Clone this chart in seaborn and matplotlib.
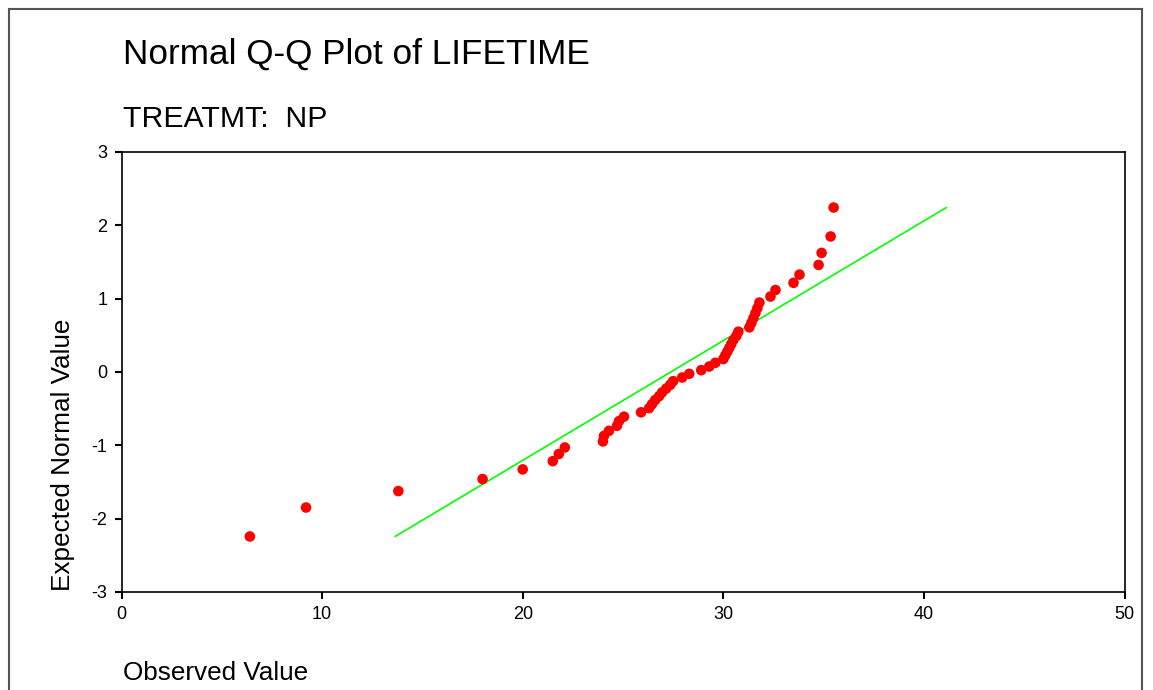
import matplotlib
matplotlib.use("Agg")
import matplotlib.pyplot as plt
import seaborn as sns
import pandas as pd
from matplotlib.patches import Rectangle

# ---- data ----
observed = [6.4, 9.2, 13.8, 18.0, 20.0, 21.5, 21.8, 22.1, 24.0, 24.05,
            24.3, 24.7, 24.8, 25.05, 25.9, 26.3, 26.45, 26.6, 26.8, 26.95,
            27.15, 27.35, 27.5, 27.95, 28.3, 28.9, 29.3, 29.6, 30.0, 30.1,
            30.2, 30.3, 30.4, 30.5, 30.65, 30.75, 31.3, 31.4, 31.5, 31.6,
            31.7, 31.8, 32.35, 32.6, 33.5, 33.8, 34.75, 34.9, 35.35, 35.5]
expected = [-2.243, -1.848, -1.624, -1.460, -1.328, -1.216, -1.118, -1.029, -0.947, -0.872,
            -0.802, -0.734, -0.670, -0.609, -0.550, -0.493, -0.437, -0.383, -0.330, -0.278,
            -0.227, -0.176, -0.125, -0.075, -0.025, 0.025, 0.075, 0.125, 0.176, 0.227,
            0.278, 0.330, 0.383, 0.437, 0.493, 0.550, 0.609, 0.670, 0.734, 0.802,
            0.872, 0.947, 1.029, 1.118, 1.216, 1.328, 1.460, 1.624, 1.848, 2.243]
line_x = [13.64, 41.12]
line_y = [-2.243, 2.243]
x_ticks = [0, 10, 20, 30, 40, 50]
y_ticks = [-3, -2, -1, 0, 1, 2, 3]

title = "Normal Q-Q Plot of LIFETIME"
subtitle = "TREATMT:  NP"
xlabel = "Observed Value"
ylabel = "Expected Normal Value"

sns.set_style("white")
plt.rcParams['font.family'] = ['Liberation Sans', 'DejaVu Sans']
plt.rcParams['axes.unicode_minus'] = False
plt.rcParams['text.color'] = 'black'

W, H = 1153, 690
fig = plt.figure(figsize=(W / 100, H / 100), dpi=100)
ax = fig.add_axes([121.5 / W, 1 - 592 / H, 1003 / W, 440 / H])

df = pd.DataFrame({"observed": observed, "expected": expected})
sns.lineplot(x=line_x, y=line_y, color="#00FF00", lw=1.2, ax=ax, zorder=2)
sns.scatterplot(data=df, x="observed", y="expected", color="#FF0000",
                s=58, edgecolor="none", ax=ax, zorder=3)

ax.set_xlim(0, 50)
ax.set_ylim(-3, 3)
ax.set_xticks(x_ticks)
ax.set_yticks(y_ticks)
ax.set_xlabel("")
ax.set_ylabel("")
ax.tick_params(axis="both", direction="out", length=5, width=1.5,
               color="black", labelsize=13, labelcolor="black",
               bottom=True, left=True, top=False, right=False)
ax.tick_params(axis="x", pad=5)
ax.tick_params(axis="y", pad=5)
for sp in ax.spines.values():
    sp.set_visible(True)
    sp.set_color("black")
    sp.set_linewidth(1.2)

fig.text(123 / W, 1 - 64 / H, title, fontsize=25.3, va="baseline", ha="left", color="black")
fig.text(123 / W, 1 - 127 / H, subtitle, fontsize=21.8, va="baseline", ha="left", color="black")
fig.text(123 / W, 1 - 680 / H, xlabel, fontsize=18.8, va="baseline", ha="left", color="black")
fig.text(51 / W, 1 - 591 / H, ylabel, fontsize=18.8, rotation=90,
         va="bottom", ha="left", color="black")

# outer frame
fig.patches.append(Rectangle((9 / W, -0.05), (1142 - 9) / W, (1 - 9 / H) + 0.05,
                             transform=fig.transFigure, fill=False,
                             edgecolor="#555555", linewidth=1.5))

fig.savefig("out.png", dpi=100)
